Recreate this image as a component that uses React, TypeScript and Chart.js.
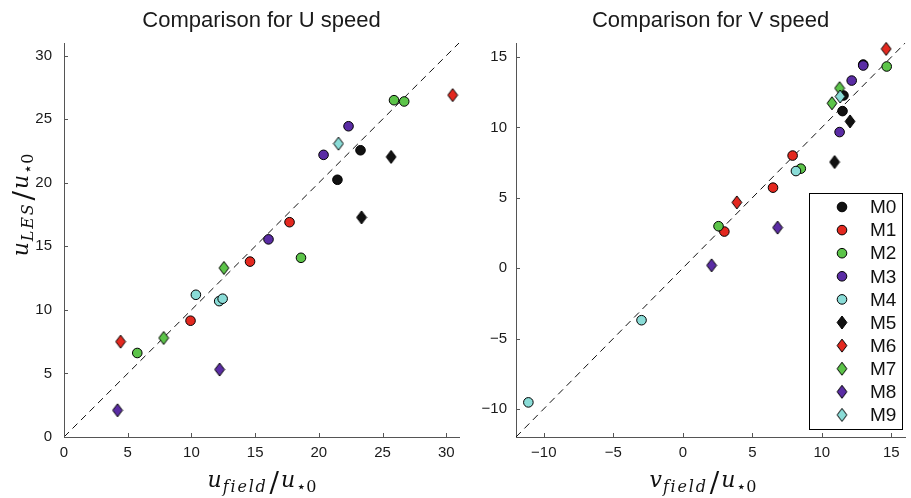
import React, { useEffect, useRef } from 'react';
import { Chart, registerables } from 'chart.js';

Chart.register(...registerables);

// ---------- data ----------
const SERIES_NAMES = ['M0', 'M1', 'M2', 'M3', 'M4', 'M5', 'M6', 'M7', 'M8', 'M9'];
const SERIES_COLORS = ['#111111', '#e3281f', '#5cc449', '#5a2ca4', '#8adcd7', '#111111', '#e3281f', '#5cc449', '#5a2ca4', '#8adcd7'];
const SERIES_SHAPES = ['circle', 'circle', 'circle', 'circle', 'circle', 'diamond', 'diamond', 'diamond', 'diamond', 'diamond'];

// U speed panel: x = u_field/u*0, y = u_LES/u*0
const U_FIELD_M0 = [23.27, 21.46];
const U_LES_M0 = [22.56, 20.24];
const U_FIELD_M1 = [17.7, 14.6, 9.93];
const U_LES_M1 = [16.9, 13.8, 9.15];
const U_FIELD_M2 = [25.9, 26.7, 5.75, 18.6];
const U_LES_M2 = [26.5, 26.4, 6.61, 14.1];
const U_FIELD_M3 = [22.33, 20.37, 16.05];
const U_LES_M3 = [24.45, 22.2, 15.55];
const U_FIELD_M4 = [10.35, 12.18, 12.45];
const U_LES_M4 = [11.19, 10.69, 10.88];
const U_FIELD_M5 = [25.67, 23.35];
const U_LES_M5 = [22.04, 17.28];
const U_FIELD_M6 = [30.5, 4.44];
const U_LES_M6 = [26.9, 7.5];
const U_FIELD_M7 = [12.55, 7.82];
const U_LES_M7 = [13.3, 7.79];
const U_FIELD_M8 = [12.21, 4.2];
const U_LES_M8 = [5.31, 2.1];
const U_FIELD_M9 = [21.54];
const U_LES_M9 = [23.08];

// V speed panel: x = v_field/u*0, y = v_LES/u*0
const V_FIELD_M0 = [11.56, 11.49, 12.98];
const V_LES_M0 = [12.27, 11.16, 14.47];
const V_FIELD_M1 = [7.9, 6.49, 2.99];
const V_LES_M1 = [8.0, 5.72, 2.6];
const V_FIELD_M2 = [14.67, 8.49, 2.57];
const V_LES_M2 = [14.33, 7.07, 2.98];
const V_FIELD_M3 = [12.98, 12.15, 11.28];
const V_LES_M3 = [14.4, 13.33, 9.67];
const V_FIELD_M4 = [8.14, -2.97, -11.11];
const V_LES_M4 = [6.9, -3.7, -9.54];
const V_FIELD_M5 = [12.03, 10.92];
const V_LES_M5 = [10.43, 7.54];
const V_FIELD_M6 = [14.63, 3.89];
const V_LES_M6 = [15.58, 4.67];
const V_FIELD_M7 = [11.28, 10.73];
const V_LES_M7 = [12.79, 11.72];
const V_FIELD_M8 = [6.82, 2.07];
const V_LES_M8 = [2.88, 0.2];
const V_FIELD_M9 = [11.32];
const V_LES_M9 = [12.2];

const U_X = [U_FIELD_M0, U_FIELD_M1, U_FIELD_M2, U_FIELD_M3, U_FIELD_M4, U_FIELD_M5, U_FIELD_M6, U_FIELD_M7, U_FIELD_M8, U_FIELD_M9];
const U_Y = [U_LES_M0, U_LES_M1, U_LES_M2, U_LES_M3, U_LES_M4, U_LES_M5, U_LES_M6, U_LES_M7, U_LES_M8, U_LES_M9];
const V_X = [V_FIELD_M0, V_FIELD_M1, V_FIELD_M2, V_FIELD_M3, V_FIELD_M4, V_FIELD_M5, V_FIELD_M6, V_FIELD_M7, V_FIELD_M8, V_FIELD_M9];
const V_Y = [V_LES_M0, V_LES_M1, V_LES_M2, V_LES_M3, V_LES_M4, V_LES_M5, V_LES_M6, V_LES_M7, V_LES_M8, V_LES_M9];

const U_RANGE = [0, 31];
const V_RANGE = [-12, 16];
const U_TICKS = [0, 5, 10, 15, 20, 25, 30];
const V_TICKS = [-10, -5, 0, 5, 10, 15];

const U_TITLE = 'Comparison for U speed';
const V_TITLE = 'Comparison for V speed';

// ---------- helpers ----------
type Seg = { t: string; sub?: boolean; it?: boolean; big?: boolean };

const U_XLABEL: Seg[] = [{ t: 'u', it: true }, { t: 'field', it: true, sub: true }, { t: '/', big: true }, { t: 'u', it: true }, { t: '⋆0', sub: true }];
const U_YLABEL: Seg[] = [{ t: 'u', it: true }, { t: 'LES', it: true, sub: true }, { t: '/', big: true }, { t: 'u', it: true }, { t: '⋆0', sub: true }];
const V_XLABEL: Seg[] = [{ t: 'v', it: true }, { t: 'field', it: true, sub: true }, { t: '/', big: true }, { t: 'u', it: true }, { t: '⋆0', sub: true }];

function segFont(s: Seg) {
  const size = s.big ? 28 : s.sub ? 16 : 22;
  return `${s.it ? 'italic ' : ''}${size}px "DejaVu Serif", "DejaVu Sans", serif`;
}

function segSpacing(s: Seg) {
  return s.sub && s.it ? '1.8px' : '0px';
}

function segGap(s: Seg) {
  return s.big ? 2 : s.sub && !s.it ? 0 : 1;
}

function mathWidth(ctx: CanvasRenderingContext2D, segs: Seg[]) {
  let w = 0;
  for (const s of segs) {
    ctx.font = segFont(s);
    (ctx as any).letterSpacing = segSpacing(s);
    w += ctx.measureText(s.t).width + segGap(s) + (s.big ? 1 : 0);
  }
  (ctx as any).letterSpacing = '0px';
  return w;
}

function drawMath(ctx: CanvasRenderingContext2D, segs: Seg[], x: number, y: number) {
  let cx = x;
  ctx.textAlign = 'left';
  ctx.textBaseline = 'alphabetic';
  for (const s of segs) {
    ctx.font = segFont(s);
    (ctx as any).letterSpacing = segSpacing(s);
    const dy = s.sub ? 5 : s.big ? 5 : 0;
    if (s.big) cx += 1;
    ctx.fillText(s.t, cx, y + dy);
    cx += ctx.measureText(s.t).width + segGap(s);
  }
  (ctx as any).letterSpacing = '0px';
}

function makeDiamond(color: string) {
  const c = document.createElement('canvas');
  c.width = 12;
  c.height = 15;
  const g = c.getContext('2d')!;
  g.beginPath();
  g.moveTo(6, 1.0);
  g.lineTo(10.9, 7.5);
  g.lineTo(6, 14.0);
  g.lineTo(1.1, 7.5);
  g.closePath();
  g.fillStyle = color;
  g.fill();
  g.strokeStyle = '#000';
  g.lineWidth = 1;
  g.stroke();
  return c;
}

const fmt = (v: number) => (v < 0 ? '\u2212' + Math.abs(v) : String(v));

type PanelOpts = {
  xs: number[][];
  ys: number[][];
  range: number[];
  ticks: number[];
  title: string;
  xlabel: Seg[];
  xlabelCenter: number;
  ylabel: Seg[] | null;
  yAxisWidth: number;
  padRight: number;
  yTickPad: number;
  legend: boolean;
  legendBox: number[];
};

function makeConfig(p: PanelOpts): any {
  const markers = SERIES_COLORS.map((c, i) => (SERIES_SHAPES[i] === 'diamond' ? makeDiamond(c) : null));
  const datasets: any[] = SERIES_NAMES.map((name, i) => ({
    label: name,
    data: p.xs[i].map((x, k) => ({ x, y: p.ys[i][k] })),
    pointStyle: markers[i] || 'circle',
    pointRadius: 4.8,
    pointBorderWidth: 1,
    pointBackgroundColor: SERIES_COLORS[i],
    pointBorderColor: '#000',
    backgroundColor: SERIES_COLORS[i],
    borderColor: '#000',
    showLine: false,
    clip: false,
    order: 10 - i,
  }));
  datasets.push({
    type: 'line',
    label: 'diag',
    data: [{ x: p.range[0], y: p.range[0] }, { x: p.range[1], y: p.range[1] }],
    borderColor: '#111',
    borderWidth: 1,
    borderDash: [7, 5],
    pointRadius: 0,
    fill: false,
    order: 100,
  });

  const overlay = {
    id: 'overlay',
    afterDraw(chart: any) {
      const ctx: CanvasRenderingContext2D = chart.ctx;
      const a = chart.chartArea;
      const xs = chart.scales.x;
      const ys = chart.scales.y;
      ctx.save();
      // inward tick marks
      ctx.strokeStyle = '#555';
      ctx.lineWidth = 1;
      ctx.beginPath();
      for (const t of p.ticks) {
        const px = Math.round(xs.getPixelForValue(t)) + 0.5;
        ctx.moveTo(px, a.bottom);
        ctx.lineTo(px, a.bottom - 4);
        const py = Math.round(ys.getPixelForValue(t)) + 0.5;
        ctx.moveTo(a.left, py);
        ctx.lineTo(a.left + 4, py);
      }
      ctx.stroke();
      // title
      ctx.fillStyle = '#1a1a1a';
      ctx.font = '22px "Liberation Sans", Arial, sans-serif';
      ctx.textAlign = 'center';
      ctx.textBaseline = 'alphabetic';
      ctx.fillText(p.title, (a.left + a.right) / 2, 27);
      // x label
      ctx.fillStyle = '#111';
      const w = mathWidth(ctx, p.xlabel);
      drawMath(ctx, p.xlabel, p.xlabelCenter - w / 2, 487);
      // y label
      if (p.ylabel) {
        const wy = mathWidth(ctx, p.ylabel);
        ctx.save();
        ctx.translate(28, 205 + wy / 2);
        ctx.rotate(-Math.PI / 2);
        drawMath(ctx, p.ylabel, 0, 0);
        ctx.restore();
      }
      // legend
      if (p.legend) {
        const [lx, ly, lw, lh] = p.legendBox;
        ctx.fillStyle = '#fff';
        ctx.fillRect(lx, ly, lw, lh);
        ctx.strokeStyle = '#000';
        ctx.lineWidth = 1;
        ctx.strokeRect(lx + 0.5, ly + 0.5, lw, lh);
        ctx.font = '19px "Liberation Sans", Arial, sans-serif';
        ctx.textAlign = 'left';
        ctx.textBaseline = 'middle';
        SERIES_NAMES.forEach((name, i) => {
          const cy = ly + 14 + i * 23.1;
          const mx = lx + 33;
          const m = markers[i];
          if (m) {
            ctx.drawImage(m, mx - m.width / 2, cy - m.height / 2);
          } else {
            ctx.beginPath();
            ctx.arc(mx, cy, 4.8, 0, Math.PI * 2);
            ctx.fillStyle = SERIES_COLORS[i];
            ctx.fill();
            ctx.strokeStyle = '#000';
            ctx.stroke();
          }
          ctx.fillStyle = '#111';
          ctx.fillText(name, lx + 61, cy + 1);
        });
      }
      ctx.restore();
    },
  };

  const tickFont = { family: '"Liberation Sans", Arial, sans-serif', size: 15 };
  const common = (min: number, max: number) => ({
    type: 'linear',
    min,
    max,
    grid: { display: false, drawTicks: false },
    border: { display: true, color: '#555', width: 1 },
    afterBuildTicks: (s: any) => {
      s.ticks = p.ticks.map((v) => ({ value: v }));
    },
  });

  return {
    type: 'scatter',
    data: { datasets },
    options: {
      responsive: false,
      animation: false,
      devicePixelRatio: 1,
      layout: { padding: { left: 0, right: p.padRight, top: 43, bottom: 0 } },
      plugins: { legend: { display: false }, tooltip: { enabled: false }, title: { display: false } },
      scales: {
        x: {
          ...common(p.range[0], p.range[1]),
          position: 'bottom',
          afterFit: (s: any) => {
            s.height = 61;
          },
          ticks: { font: tickFont, color: '#1a1a1a', padding: 7, maxRotation: 0, autoSkip: false, callback: (v: number) => fmt(v) },
        },
        y: {
          ...common(p.range[0], p.range[1]),
          position: 'left',
          afterFit: (s: any) => {
            s.width = p.yAxisWidth;
          },
          ticks: { font: tickFont, color: '#1a1a1a', padding: p.yTickPad, autoSkip: false, callback: (v: number) => fmt(v) },
        },
      },
    },
    plugins: [overlay],
  };
}

export default function App() {
  const leftRef = useRef<HTMLCanvasElement>(null);
  const rightRef = useRef<HTMLCanvasElement>(null);

  useEffect(() => {
    const c1 = new Chart(
      leftRef.current!,
      makeConfig({
        xs: U_X,
        ys: U_Y,
        range: U_RANGE,
        ticks: U_TICKS,
        title: U_TITLE,
        xlabel: U_XLABEL,
        xlabelCenter: 262,
        ylabel: U_YLABEL,
        yAxisWidth: 64,
        padRight: 6,
        yTickPad: 12,
        legend: false,
        legendBox: [0, 0, 0, 0],
      })
    );
    const c2 = new Chart(
      rightRef.current!,
      makeConfig({
        xs: V_X,
        ys: V_Y,
        range: V_RANGE,
        ticks: V_TICKS,
        title: V_TITLE,
        xlabel: V_XLABEL,
        xlabelCenter: 703 - 465,
        ylabel: null,
        yAxisWidth: 51,
        padRight: 1,
        yTickPad: 9,
        legend: true,
        legendBox: [809 - 465, 193, 93, 236],
      })
    );
    return () => {
      c1.destroy();
      c2.destroy();
    };
  }, []);

  return (
    <div style={{ position: 'absolute', left: 0, top: 0, width: 911, height: 498, background: '#fff', overflow: 'hidden' }}>
      <canvas ref={leftRef} width={465} height={498} style={{ position: 'absolute', left: 0, top: 0 }} />
      <canvas ref={rightRef} width={446} height={498} style={{ position: 'absolute', left: 465, top: 0 }} />
    </div>
  );
}
